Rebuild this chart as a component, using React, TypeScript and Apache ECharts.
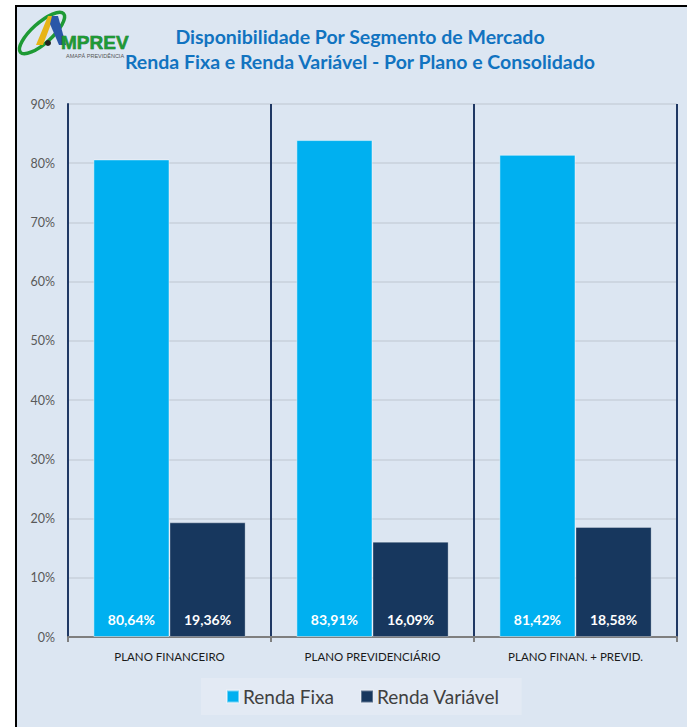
import React, { useEffect, useRef } from "react";
import * as echarts from "echarts";

const categories = ["PLANO FINANCEIRO", "PLANO PREVIDENCIÁRIO", "PLANO FINAN. + PREVID."];
const rendaFixa = [80.64, 83.91, 81.42];
const rendaVariavel = [19.36, 16.09, 18.58];
const seriesNames = ["Renda Fixa", "Renda Variável"];
const titleLines = [
  "Disponibilidade Por Segmento de Mercado",
  "Renda Fixa e Renda Variável - Por Plano e Consolidado",
];
const yMax = 90;
const yStep = 10;

const fmt = (v: number) => v.toFixed(2).replace(".", ",") + "%";

export default function App() {
  const ref = useRef<HTMLDivElement>(null);
  useEffect(() => {
    if (!ref.current) return;
    const chart = echarts.init(ref.current, null, { renderer: "svg" });
    const font = "Lato, 'Open Sans', sans-serif";
    const labelCfg = {
      show: true,
      position: "insideBottom",
      distance: 11,
      color: "#ffffff",
      fontWeight: "bold",
      fontSize: 14,
      fontFamily: font,
      formatter: (p: any) => fmt(p.value),
    };
    chart.setOption({
      animation: false,
      backgroundColor: "transparent",
      title: [
        {
          text: titleLines[0],
          left: 355,
          top: 21,
          textAlign: "center",
          textStyle: { color: "#1173C0", fontSize: 19.5, fontWeight: "bold", fontFamily: font },
        },
        {
          text: titleLines[1],
          left: 355,
          top: 46,
          textAlign: "center",
          textStyle: { color: "#1173C0", fontSize: 19.5, fontWeight: "bold", fontFamily: font },
        },
      ],
      graphic: [
        {
          type: "ellipse",
          x: 42,
          y: 33,
          rotation: (42 * Math.PI) / 180,
          shape: { cx: 0, cy: 0, rx: 29, ry: 10 },
          style: { fill: "none", stroke: "#1E9A35", lineWidth: 3.5 },
        },
        {
          type: "polygon",
          shape: { points: [[36, 45], [43, 45], [54, 16], [48, 16]] },
          style: { fill: "#E7B416" },
        },
        {
          type: "polygon",
          shape: { points: [[52, 16], [58, 16], [66, 45], [59, 45], [50, 24]] },
          style: { fill: "#2A57A8" },
        },
        {
          type: "circle",
          shape: { cx: 48, cy: 43, r: 3 },
          style: { fill: "#222" },
        },
        {
          type: "text",
          x: 61,
          y: 52,
          style: {
            text: "MPREV",
            fontSize: 19,
            fontWeight: "bold",
            fontFamily: "'Liberation Sans', Arial, sans-serif",
            fill: "#1E9A35",
            stroke: "#0E5A20",
            lineWidth: 0.5,
            textVerticalAlign: "bottom",
          },
        },
        {
          type: "text",
          x: 66,
          y: 53,
          style: {
            text: "AMAPÁ PREVIDÊNCIA",
            fontSize: 5.5,
            fontFamily: "'Liberation Sans', Arial, sans-serif",
            fill: "#555",
          },
        },
      ],
      legend: {
        data: seriesNames,
        left: 201,
        top: 678,
        width: 319,
        itemWidth: 12,
        itemHeight: 12,
        itemGap: 26,
        icon: "rect",
        padding: [9, 22, 9, 25],
        backgroundColor: "#E3EAF4",
        textStyle: { fontSize: 19, color: "#404040", fontFamily: font, padding: [0, 0, 0, -1] },
      },
      grid: { left: 68, right: 10, top: 104, bottom: 90, containLabel: false },
      xAxis: {
        type: "category",
        data: categories,
        axisLine: { show: true, lineStyle: { color: "#7F7F7F", width: 2 } },
        axisTick: { show: true, length: 5, lineStyle: { color: "#7F7F7F", width: 2 } },
        axisLabel: { color: "#1a1a1a", fontSize: 11.5, fontFamily: font, margin: 13 },
        splitLine: { show: true, lineStyle: { color: "#1F3864", width: 2 } },
      },
      yAxis: {
        type: "value",
        min: 0,
        max: yMax,
        interval: yStep,
        axisLine: { show: true, lineStyle: { color: "#1F3864", width: 2 } },
        axisTick: { show: false },
        axisLabel: {
          color: "#595959",
          fontSize: 12.5,
          fontFamily: font,
          margin: 13,
          formatter: (v: number) => v + "%",
        },
        splitLine: { show: true, lineStyle: { color: "#C8D0DB", width: 1.5 } },
      },
      series: [
        {
          name: seriesNames[0],
          type: "bar",
          data: rendaFixa,
          barGap: "0%",
          barCategoryGap: "25%",
          itemStyle: { color: "#00B0F0", borderColor: "rgba(255,255,255,0.45)", borderWidth: 1 },
          label: labelCfg,
        },
        {
          name: seriesNames[1],
          type: "bar",
          data: rendaVariavel,
          itemStyle: { color: "#17375E", borderColor: "rgba(255,255,255,0.3)", borderWidth: 1 },
          label: labelCfg,
        },
      ],
    });
    return () => chart.dispose();
  }, []);

  return (
    <div
      style={{
        position: "fixed",
        left: 0,
        top: 0,
        width: 687,
        height: 727,
        background: "#ffffff",
        overflow: "hidden",
      }}
    >
      <div
        style={{
          position: "absolute",
          left: 15,
          top: 5,
          width: 720,
          height: 760,
          border: "2px solid #000",
          background: "#DCE6F2",
        }}
      />
      <div ref={ref} style={{ position: "absolute", left: 0, top: 0, width: 687, height: 727 }} />
    </div>
  );
}
